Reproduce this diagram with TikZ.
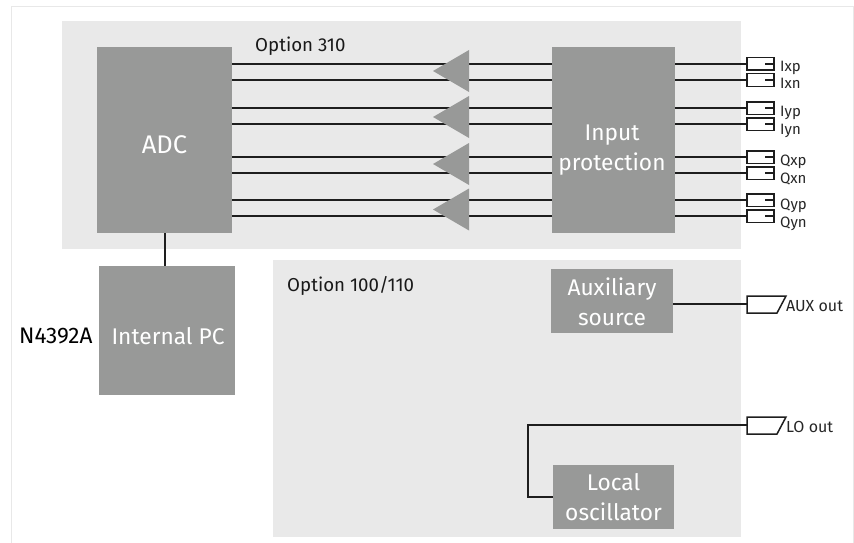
\documentclass[tikz,border=0pt]{standalone}
\usepackage{fontspec}
\usetikzlibrary{calc}
\setmainfont{Fira Sans}
\definecolor{panelgray}{HTML}{E9E9E9}
\definecolor{blockgray}{HTML}{989998}
\definecolor{framegray}{HTML}{E8E8E8}
\definecolor{linedark}{HTML}{1E1E1E}
\tikzset{
  panel/.style={fill=panelgray,draw=none,anchor=north west,inner sep=0pt},
  block/.style={fill=blockgray,draw=none,inner sep=0pt,anchor=north west},
  blocktext/.style={text=white,align=center,inner sep=0pt,font=\fontsize{22.7}{30}\selectfont},
  wire/.style={draw=linedark,line width=1.7pt},
  port/.style={draw=linedark,line width=1.5pt,fill=white,minimum width=27pt,minimum height=12.5pt,inner sep=0pt,anchor=west,outer sep=0pt},
  tick/.style={draw=linedark,line width=1.2pt},
  amp/.style={fill=blockgray,draw=none},
  portlabel/.style={anchor=base west,inner sep=0pt,font=\fontsize{15}{17}\selectfont,text=black!85},
  caption/.style={anchor=base west,inner sep=0pt,font=\fontsize{18.7}{22}\selectfont,text=black!90},
  outlabel/.style={anchor=base west,inner sep=0pt,font=\fontsize{16}{19}\selectfont,text=black!85},
}
\begin{document}
\begin{tikzpicture}[x=1pt,y=-1pt]
\useasboundingbox (0,0) rectangle (854,543);
% outer frame
\draw[framegray,line width=1pt] (11,543) -- (11,7) -- (853,7) -- (853,543);
% panels
\node[panel,minimum width=679pt,minimum height=228pt] (optA) at (62,21) {};
\node[panel,minimum width=468pt,minimum height=277pt] (optB) at (273,260) {};
\node[caption] (optAlabel) at (255,52) {Option 310};
\node[caption] (optBlabel) at (287,291) {Option 100/110};
\node[anchor=base west,inner sep=0pt,font=\fontsize{22.5}{26}\selectfont] (nlabel) at (19,343) {N4392A};
% blocks
\node[block,minimum width=135pt,minimum height=186pt] (adc) at (97,47) {};
\node[blocktext,font=\fontsize{25.5}{30}\selectfont] (adct) at (164.5,145) {ADC};
\node[block,minimum width=123pt,minimum height=186pt] (prot) at (552,47) {};
\node[blocktext] (prott) at (612,150) {Input\\protection};
\node[block,minimum width=136pt,minimum height=129pt] (pc) at (99,266) {};
\node[blocktext] (pct) at (168,336) {Internal PC};
\node[block,minimum width=122pt,minimum height=64pt] (aux) at (551,269) {};
\node[blocktext] (auxt) at (612,302) {Auxiliary\\source};
\node[block,minimum width=121pt,minimum height=64pt] (lo) at (553,465) {};
\node[blocktext] (lot) at (613.5,497) {Local\\oscillator};
\draw[wire] (adc.south) -- (adc.south |- pc.north);
% differential channels
\foreach \nm/\txt/\yy/\by in {ixp/Ixp/64/71,ixn/Ixn/80/88.7,iyp/Iyp/108/116,iyn/Iyn/124/134,qxp/Qxp/157/165,qxn/Qxn/173/183,qyp/Qyp/200/209,qyn/Qyn/216/227}{
  \node[port] (\nm) at (747,\yy) {};
  \draw[tick] ($(\nm.east)+(-9,0)$) -- (\nm.east);
  \node[portlabel] (\nm l) at (780,\by) {\txt};
  \draw[wire] (\nm.west) -- (\nm.west -| prot.east);
  \draw[wire] (\nm.west -| prot.west) -- (\nm.west -| adc.east);
}
% amplifiers
\foreach \nm/\yy in {ampa/71,ampb/117,ampc/164,ampd/209.5}{
  \coordinate (\nm) at (433,\yy);
  \fill[amp] (\nm) -- ($(\nm)+(36,-21)$) -- ($(\nm)+(36,21)$) -- cycle;
}
% output connectors
\coordinate (auxport) at (747,304);
\coordinate (loport) at (747,425);
\coordinate (lobend) at (528,497);
\draw[wire] (aux.east |- auxport) -- (auxport);
\draw[wire] (lo.west |- lobend) -- (lobend) |- (loport);
\foreach \c in {auxport,loport}{
  \draw[draw=linedark,line width=1.5pt,fill=white] ($(\c)+(0,-8)$) -- ($(\c)+(39,-8)$) -- ($(\c)+(30,9)$) -- ($(\c)+(0,9)$) -- cycle;
}
\node[outlabel] (auxlabel) at (786,311) {AUX out};
\node[outlabel] (lolabel) at (786,432) {LO out};
\end{tikzpicture}
\end{document}
